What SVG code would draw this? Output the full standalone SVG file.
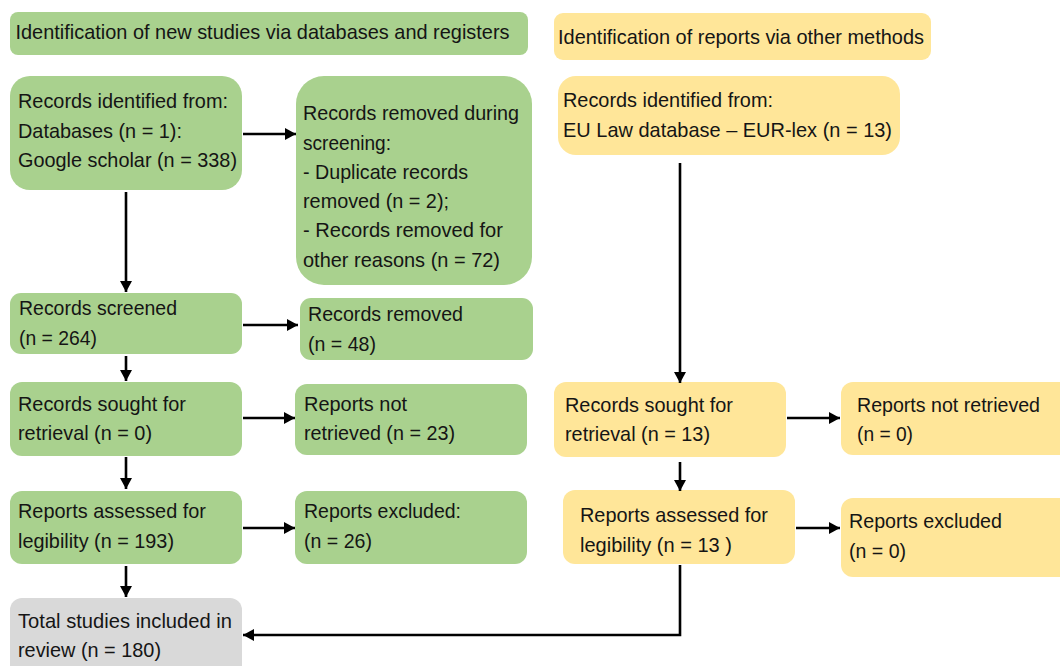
<svg xmlns="http://www.w3.org/2000/svg" width="1060" height="666" viewBox="0 0 1060 666">
<style>
.g{fill:#a9d18e}
.y{fill:#ffe699}
.gr{fill:#d9d9d9}
text{font-family:"Liberation Sans",Arial,sans-serif;font-size:21px;fill:#151515}
.c{fill:none;stroke:#000;stroke-width:2.6}
</style>
<defs>
<marker id="ah" markerUnits="userSpaceOnUse" markerWidth="12" markerHeight="12" refX="11" refY="6" orient="auto">
<path d="M0,0 L11,6 L0,12 z" fill="#000"/>
</marker>
</defs>
<rect width="1060" height="666" fill="#fff"/>

<g id="hdr-db">
<rect class="g" x="10" y="12" width="518" height="43" rx="8"/>
<text x="15.5" y="39" textLength="494" lengthAdjust="spacingAndGlyphs">Identification  of new studies via databases and registers</text>
</g>
<g id="hdr-other">
<rect class="y" x="554" y="13" width="377" height="47" rx="9"/>
<text x="558" y="44" textLength="366" lengthAdjust="spacingAndGlyphs">Identification  of reports via other methods</text>
</g>

<g id="db-identified">
<rect class="g" x="10" y="76" width="232" height="114" rx="20"/>
<text x="18" y="108" textLength="210" lengthAdjust="spacingAndGlyphs">Records identified from:</text>
<text x="18" y="138" textLength="164" lengthAdjust="spacingAndGlyphs">Databases (n = 1):</text>
<text x="18" y="167" textLength="219" lengthAdjust="spacingAndGlyphs">Google scholar (n = 338)</text>
</g>
<g id="db-removed">
<rect class="g" x="296" y="76" width="236" height="209" rx="28"/>
<text x="303" y="120" textLength="216" lengthAdjust="spacingAndGlyphs">Records removed during</text>
<text x="303" y="150" textLength="88" lengthAdjust="spacingAndGlyphs">screening:</text>
<text x="303" y="179" textLength="165" lengthAdjust="spacingAndGlyphs">- Duplicate records</text>
<text x="303" y="208" textLength="146" lengthAdjust="spacingAndGlyphs">removed (n = 2);</text>
<text x="303" y="237" textLength="200" lengthAdjust="spacingAndGlyphs">- Records removed for</text>
<text x="303" y="267" textLength="197" lengthAdjust="spacingAndGlyphs">other reasons (n = 72)</text>
</g>
<g id="db-screened">
<rect class="g" x="10" y="293" width="232" height="61" rx="11"/>
<text x="19" y="315" textLength="158" lengthAdjust="spacingAndGlyphs">Records screened</text>
<text x="19" y="345" textLength="78" lengthAdjust="spacingAndGlyphs">(n = 264)</text>
</g>
<g id="db-screen-removed">
<rect class="g" x="300" y="298" width="233" height="62" rx="11"/>
<text x="308" y="321" textLength="155" lengthAdjust="spacingAndGlyphs">Records removed</text>
<text x="308" y="351" textLength="68" lengthAdjust="spacingAndGlyphs">(n = 48)</text>
</g>
<g id="db-sought">
<rect class="g" x="10" y="382" width="232" height="74" rx="12"/>
<text x="18" y="411" textLength="168" lengthAdjust="spacingAndGlyphs">Records sought for</text>
<text x="18" y="440" textLength="134" lengthAdjust="spacingAndGlyphs">retrieval (n = 0)</text>
</g>
<g id="db-not-retrieved">
<rect class="g" x="295" y="384" width="232" height="71" rx="12"/>
<text x="304" y="411" textLength="103" lengthAdjust="spacingAndGlyphs">Reports not</text>
<text x="304" y="440" textLength="151" lengthAdjust="spacingAndGlyphs">retrieved (n = 23)</text>
</g>
<g id="db-assessed">
<rect class="g" x="10" y="491" width="232" height="73" rx="12"/>
<text x="18" y="518" textLength="188" lengthAdjust="spacingAndGlyphs">Reports assessed for</text>
<text x="18" y="548" textLength="156" lengthAdjust="spacingAndGlyphs">legibility (n = 193)</text>
</g>
<g id="db-excluded">
<rect class="g" x="295" y="491" width="232" height="73" rx="12"/>
<text x="304" y="518" textLength="157" lengthAdjust="spacingAndGlyphs">Reports excluded:</text>
<text x="304" y="548" textLength="68" lengthAdjust="spacingAndGlyphs">(n = 26)</text>
</g>
<g id="included">
<rect class="gr" x="10" y="598" width="232" height="80" rx="12"/>
<text x="18" y="628" textLength="214" lengthAdjust="spacingAndGlyphs">Total studies included in</text>
<text x="18" y="657" textLength="143" lengthAdjust="spacingAndGlyphs">review (n = 180)</text>
</g>

<g id="oth-identified">
<rect class="y" x="558" y="76" width="342" height="79" rx="18"/>
<text x="563" y="107" textLength="210" lengthAdjust="spacingAndGlyphs">Records identified from:</text>
<text x="563" y="137" textLength="329" lengthAdjust="spacingAndGlyphs">EU Law database – EUR-lex (n = 13)</text>
</g>
<g id="oth-sought">
<rect class="y" x="554" y="382" width="232" height="75" rx="12"/>
<text x="565" y="412" textLength="168" lengthAdjust="spacingAndGlyphs">Records sought for</text>
<text x="565" y="441" textLength="145" lengthAdjust="spacingAndGlyphs">retrieval (n = 13)</text>
</g>
<g id="oth-not-retrieved">
<rect class="y" x="841" y="382" width="240" height="73" rx="12"/>
<text x="857" y="412" textLength="183" lengthAdjust="spacingAndGlyphs">Reports not retrieved</text>
<text x="857" y="441" textLength="56" lengthAdjust="spacingAndGlyphs">(n = 0)</text>
</g>
<g id="oth-assessed">
<rect class="y" x="563" y="490" width="232" height="74" rx="12"/>
<text x="580" y="522" textLength="188" lengthAdjust="spacingAndGlyphs">Reports assessed for</text>
<text x="580" y="552" textLength="152" lengthAdjust="spacingAndGlyphs">legibility (n = 13 )</text>
</g>
<g id="oth-excluded">
<rect class="y" x="841" y="498" width="240" height="79" rx="12"/>
<text x="849" y="528" textLength="153" lengthAdjust="spacingAndGlyphs">Reports excluded</text>
<text x="849" y="558" textLength="57" lengthAdjust="spacingAndGlyphs">(n = 0)</text>
</g>

<g id="connectors">
<line class="c" x1="243" y1="134" x2="296" y2="134" marker-end="url(#ah)"/>
<line class="c" x1="126" y1="192" x2="126" y2="292" marker-end="url(#ah)"/>
<line class="c" x1="243" y1="325" x2="298" y2="325" marker-end="url(#ah)"/>
<line class="c" x1="126" y1="356" x2="126" y2="381" marker-end="url(#ah)"/>
<line class="c" x1="243" y1="418" x2="295" y2="418" marker-end="url(#ah)"/>
<line class="c" x1="126" y1="457" x2="126" y2="489" marker-end="url(#ah)"/>
<line class="c" x1="243" y1="528" x2="295" y2="528" marker-end="url(#ah)"/>
<line class="c" x1="126" y1="566" x2="126" y2="597" marker-end="url(#ah)"/>
<line class="c" x1="680" y1="163" x2="680" y2="383" marker-end="url(#ah)"/>
<line class="c" x1="787" y1="418" x2="840" y2="418" marker-end="url(#ah)"/>
<line class="c" x1="680" y1="462" x2="680" y2="491" marker-end="url(#ah)"/>
<line class="c" x1="796" y1="528" x2="840" y2="528" marker-end="url(#ah)"/>
<polyline class="c" points="680,565 680,635 243,635" marker-end="url(#ah)"/>
</g>
</svg>
